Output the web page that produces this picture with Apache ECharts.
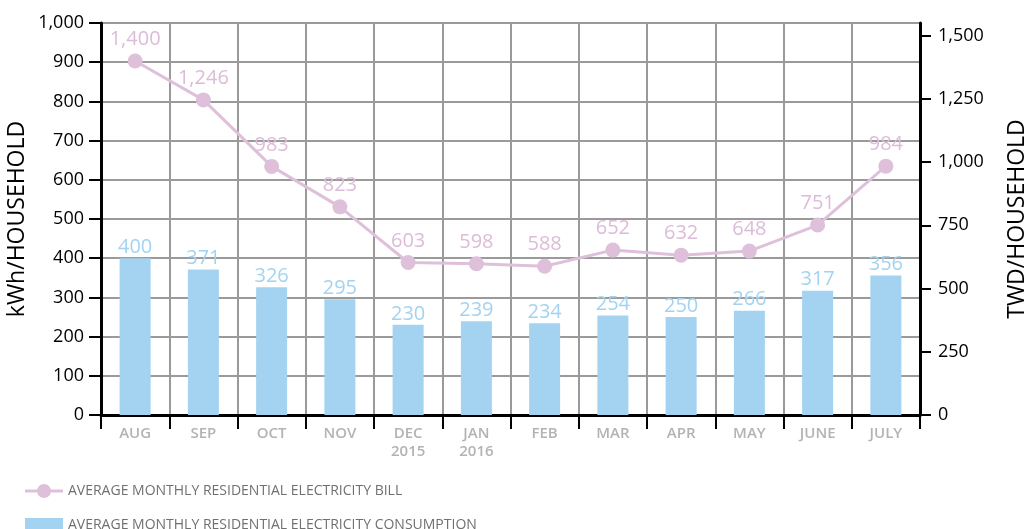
<!DOCTYPE html>
<html>
<head>
<meta charset="utf-8">
<script src="https://cdn.jsdelivr.net/npm/echarts@6/dist/echarts.min.js"></script>
<style>
  html, body { margin: 0; padding: 0; background: #fff; }
  #chart { width: 1029px; height: 529px; }
</style>
</head>
<body>
<div id="chart"></div>
<script>
// Months shown on the category axis
const months = ['AUG', 'SEP', 'OCT', 'NOV', 'DEC\n2015', 'JAN\n2016', 'FEB', 'MAR', 'APR', 'MAY', 'JUNE', 'JULY'];
// Average monthly consumption, kWh per household
const consumption = [400, 371, 326, 295, 230, 239, 234, 254, 250, 266, 317, 356];
// Average monthly bill, TWD per household
const bill = [1400, 1246, 983, 823, 603, 598, 588, 652, 632, 648, 751, 984];
// Tick values of the right-hand axis
const billTicks = [0, 250, 500, 750, 1000, 1250, 1500];

const BILL_NAME = 'AVERAGE MONTHLY RESIDENTIAL ELECTRICITY BILL';
const USE_NAME = 'AVERAGE MONTHLY RESIDENTIAL ELECTRICITY CONSUMPTION';

const FONT = '"Open Sans", "Noto Sans", sans-serif';
const fmt = v => Number(v).toLocaleString('en-US');

// Legend glyph for the bill series: a line through a dot
const LINE_DOT_ICON = 'path://M0,5.5H38V8.5H0Z M12,7A7,7 0 1,1 26,7A7,7 0 1,1 12,7Z';

const legendBase = {
  orient: 'horizontal',
  left: 20,
  itemWidth: 38,
  itemHeight: 14,
  textStyle: { fontFamily: FONT, fontSize: 14, color: '#707070' }
};

const chart = echarts.init(document.getElementById('chart'));
chart.setOption({
  animation: false,
  textStyle: { fontFamily: FONT },
  grid: { left: 101, right: 109, top: 23, bottom: 114, containLabel: false, outerBoundsMode: 'none' },
  legend: [
    Object.assign({}, legendBase, { top: 479, data: [{ name: BILL_NAME, icon: LINE_DOT_ICON, itemStyle: { color: '#dfc0db' } }] }),
    Object.assign({}, legendBase, { top: 513, data: [{ name: USE_NAME, icon: 'rect' }] })
  ],
  xAxis: {
    type: 'category',
    data: months,
    boundaryGap: true,
    axisLine: { lineStyle: { color: '#000', width: 3 } },
    axisTick: { show: true, length: 14, lineStyle: { color: '#000', width: 2 } },
    splitLine: { show: true, lineStyle: { color: '#9a9a9a', width: 2 } },
    axisLabel: { color: '#b3b3b3', fontSize: 15, fontWeight: 600, margin: 10, lineHeight: 18, fontFamily: FONT }
  },
  yAxis: [
    {
      type: 'value',
      min: 0, max: 1000, interval: 100,
      name: 'kWh/HOUSEHOLD',
      nameLocation: 'middle',
      nameRotate: 90,
      nameGap: 72,
      nameMoveOverlap: false,
      nameTextStyle: { fontSize: 23, color: '#000', fontFamily: FONT },
      axisLine: { show: true, lineStyle: { color: '#000', width: 3 } },
      axisTick: { show: true, length: 12, lineStyle: { color: '#000', width: 2 } },
      splitLine: { show: true, lineStyle: { color: '#9a9a9a', width: 2 } },
      axisLabel: { color: '#000', fontSize: 18, margin: 17, formatter: fmt, fontFamily: FONT }
    },
    {
      type: 'value',
      min: 0, max: 1550,
      position: 'right',
      name: 'TWD/HOUSEHOLD',
      nameLocation: 'middle',
      nameRotate: 90,
      nameGap: 86,
      nameTextStyle: { fontSize: 23, color: '#000', fontFamily: FONT },
      axisLine: { show: true, lineStyle: { color: '#000', width: 3 } },
      axisTick: { show: true, length: 11, customValues: billTicks, lineStyle: { color: '#000', width: 2 } },
      splitLine: { show: false },
      axisLabel: { color: '#000', fontSize: 18, margin: 18, customValues: billTicks, formatter: fmt, fontFamily: FONT }
    }
  ],
  series: [
    {
      name: USE_NAME,
      type: 'bar',
      yAxisIndex: 0,
      data: consumption,
      barWidth: 31,
      itemStyle: { color: '#a3d3f1' },
      label: { show: true, position: 'top', distance: 1, color: '#a3d3f1', fontSize: 20, fontFamily: FONT, formatter: p => fmt(p.value) },
      z: 2
    },
    {
      name: BILL_NAME,
      type: 'line',
      yAxisIndex: 1,
      data: bill,
      symbol: 'circle',
      symbolSize: 15,
      lineStyle: { color: '#dfc0db', width: 3 },
      itemStyle: { color: '#dfc0db' },
      label: { show: true, position: 'top', distance: 4, color: '#dcbcd8', fontSize: 20, fontFamily: FONT, formatter: p => fmt(p.value) },
      z: 3
    }
  ]
});
</script>
</body>
</html>
